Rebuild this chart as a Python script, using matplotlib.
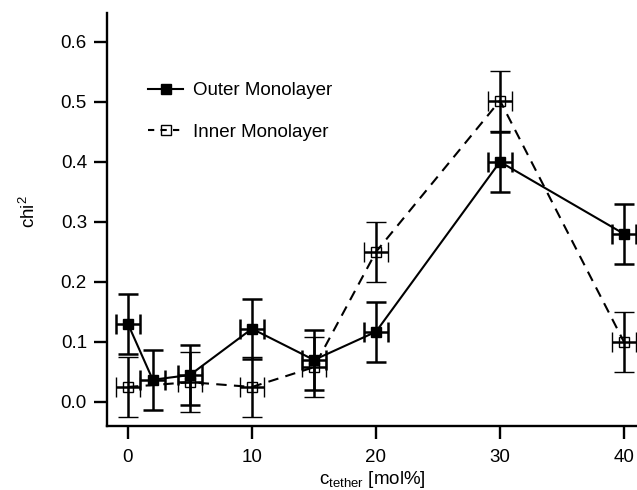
import matplotlib
matplotlib.use("Agg")
import matplotlib.pyplot as plt
from matplotlib.lines import Line2D

plt.rcParams['font.family'] = ['Liberation Sans', 'DejaVu Sans']

# tether concentration [mol%] and chi^2 values
x_outer = [0, 2, 5, 10, 15, 20, 30, 40]
y_outer = [0.13, 0.037, 0.045, 0.122, 0.07, 0.117, 0.40, 0.28]
x_inner = [0, 5, 10, 15, 20, 30, 40]
y_inner = [0.025, 0.033, 0.025, 0.058, 0.25, 0.502, 0.10]
y_err = 0.05
x_err = 1.0

x_ticks = [0, 10, 20, 30, 40]
y_ticks = [0.0, 0.1, 0.2, 0.3, 0.4, 0.5, 0.6]

FS = 13.5

fig = plt.figure(figsize=(6.37, 4.9), dpi=100)
ax = fig.add_axes([0.168, 0.1306, 0.832, 0.843])

common = dict(color='black', ecolor='black', elinewidth=1.8, capsize=7.5,
              capthick=1.8, lw=1.5)

ax.errorbar(x_inner, y_inner, yerr=y_err, xerr=x_err, fmt='s',
            linestyle=(0, (5, 3.5)), markersize=6.5, markerfacecolor='none',
            markeredgecolor='black', markeredgewidth=1.0, zorder=2, **common)
ax.errorbar(x_outer, y_outer, yerr=y_err, xerr=x_err, fmt='s',
            linestyle='-', markersize=7.5, markerfacecolor='black',
            markeredgecolor='black', zorder=3, **common)

ax.set_xlim(-1.69, 41.05)
ax.set_ylim(-0.04, 0.648)
ax.set_xticks(x_ticks)
ax.set_yticks(y_ticks)
ax.set_xticklabels([str(t) for t in x_ticks])
ax.set_yticklabels([f"{t:.1f}" for t in y_ticks])

for s in ['top', 'right']:
    ax.spines[s].set_visible(False)
for s in ['left', 'bottom']:
    ax.spines[s].set_linewidth(1.7)
ax.tick_params(axis='both', direction='out', length=9.5, width=1.7,
               labelsize=FS, color='black')
ax.tick_params(axis='x', pad=7)
ax.tick_params(axis='y', pad=5)

ax.set_xlabel(r'c$_{\mathregular{tether}}$ [mol%]', fontsize=FS, labelpad=2)
ax.set_ylabel(r'chi$^{\mathregular{2}}$', fontsize=FS)
ax.yaxis.set_label_coords(-0.128, 0.518)

handles = [
    Line2D([], [], color='black', lw=1.5, marker='s', markersize=7.5,
           markerfacecolor='black'),
    Line2D([], [], color='black', lw=1.5, linestyle=(0, (3, 3)), marker='s',
           markersize=6.5, markerfacecolor='none', markeredgewidth=1.0),
]
ax.legend(handles, ['Outer Monolayer', 'Inner Monolayer'], loc='center left',
          bbox_to_anchor=(0.077, 0.761), frameon=False, fontsize=FS,
          handlelength=1.9, handletextpad=0.5, labelspacing=1.3,
          borderpad=0, borderaxespad=0)

fig.savefig('out.png', dpi=100)
